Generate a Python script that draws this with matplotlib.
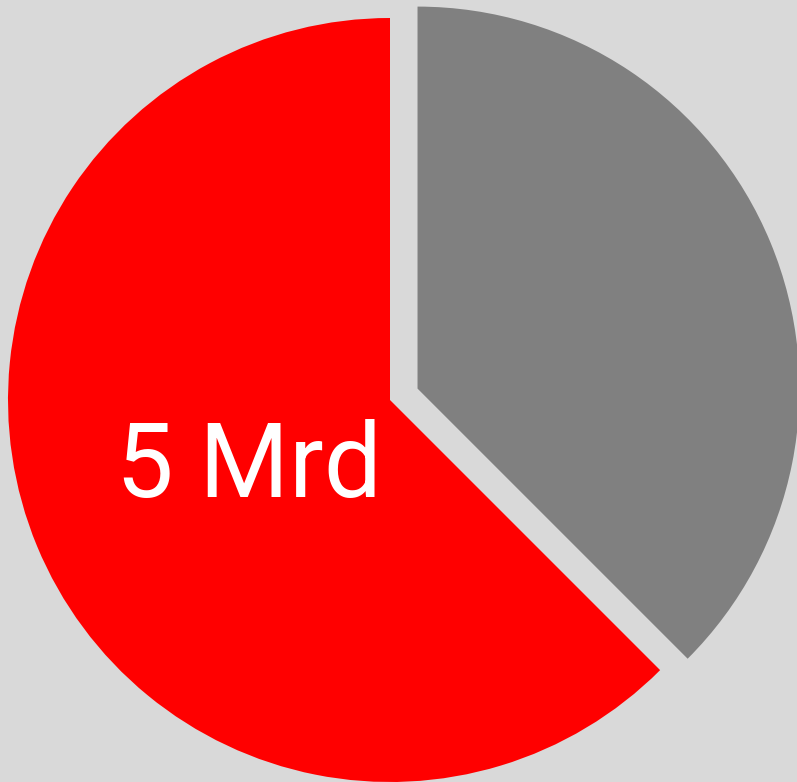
import matplotlib
matplotlib.use("Agg")
import matplotlib.pyplot as plt

labels = ["Rest", "Anteil"]
values = [3, 5]
colors = ["#808080", "#ff0000"]
explode = [0.078, 0.0]
total = sum(values)

W, H = 797, 782
fig = plt.figure(figsize=(W / 100, H / 100), dpi=100)
fig.patch.set_facecolor("#d9d9d9")
ax = fig.add_axes([0, 0, 1, 1])
ax.set_facecolor("#d9d9d9")

def fmt(p):
    v = round(p * total / 100)
    return f"{v} Mrd" if v == max(values) else ""

wedges, texts, autotexts = ax.pie(
    values, colors=colors, explode=explode, startangle=90, counterclock=False,
    autopct=fmt, pctdistance=0.40,
    textprops=dict(color="white", fontsize=74, family=["Roboto", "DejaVu Sans"]),
    wedgeprops=dict(linewidth=0),
)
for t in autotexts:
    t.set_verticalalignment("center_baseline")

r_px = 382.0
cx, cy = 390.0, 400.0
ax.set_aspect("auto")
ax.set_xlim(-cx / r_px, (W - cx) / r_px)
ax.set_ylim(-(H - cy) / r_px, cy / r_px)
ax.axis("off")

fig.savefig("out.png", dpi=100, facecolor=fig.get_facecolor())
